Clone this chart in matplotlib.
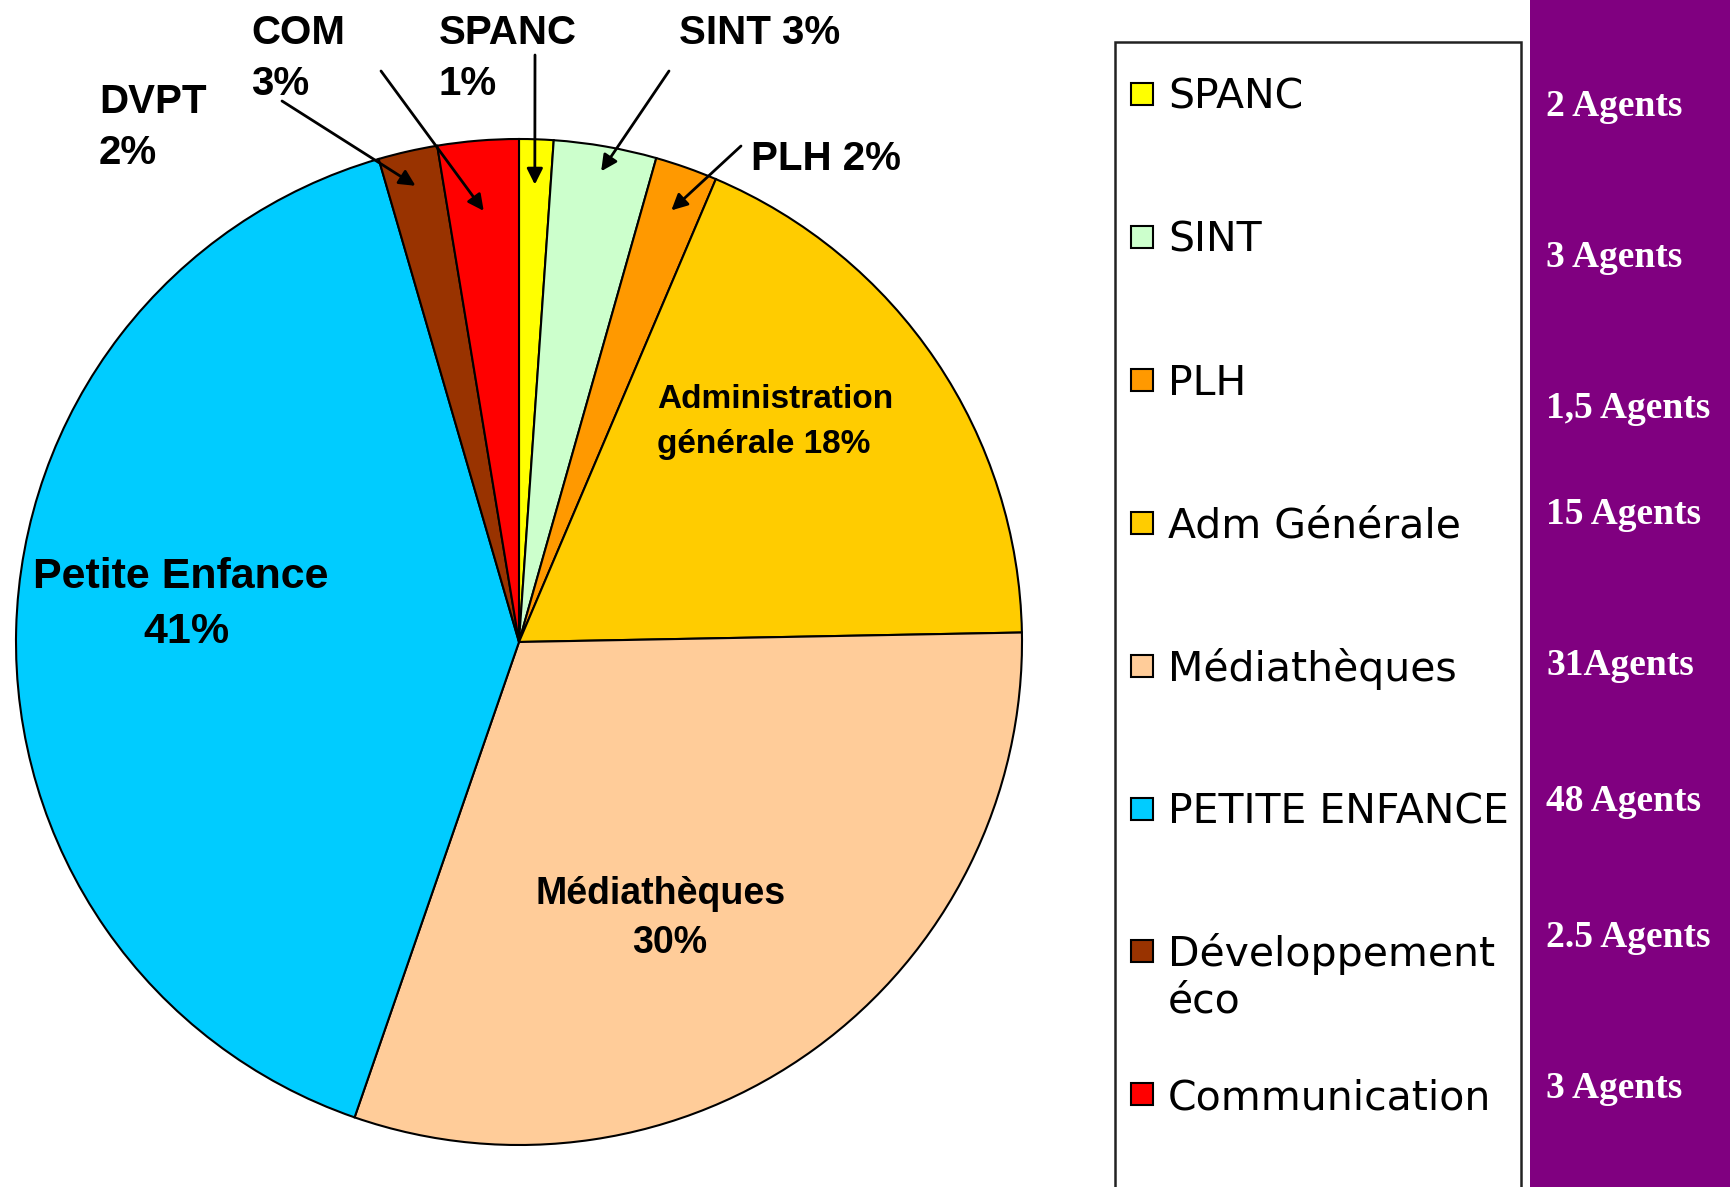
import matplotlib
matplotlib.use("Agg")
import numpy as np
import matplotlib.pyplot as plt
from matplotlib.patches import Rectangle

# Répartition des effectifs par service (parts en %)
services = ["SPANC", "SINT", "PLH", "Adm Générale", "Médiathèques",
            "PETITE ENFANCE", "Développement\néco", "Communication"]
parts = [1.1, 3.3, 2.0, 18.3, 30.6, 40.2, 1.9, 2.6]
couleurs = ["#FFFF00", "#CCFFCC", "#FF9900", "#FFCC00", "#FFCC99",
            "#00CCFF", "#993300", "#FF0000"]
agents = ["2 Agents", "3 Agents", "1,5 Agents", "15 Agents", "31Agents",
          "48 Agents", "2.5 Agents", "3 Agents"]

W, H = 1731, 1187


def fx(px):
    return px / W


def fy(py):
    return 1 - py / H


fig = plt.figure(figsize=(W / 100, H / 100), dpi=100)
fig.patch.set_facecolor("white")

# camembert : centre (519, 642) px, rayon 503 px
ax = fig.add_axes([fx(16), 42 / H, 1006 / W, 1006 / H])
wedges, _ = ax.pie(parts, colors=couleurs, startangle=90, counterclock=False,
                   radius=1, wedgeprops=dict(edgecolor="black", linewidth=1.5))
ax.set_xlim(-1, 1)
ax.set_ylim(-1, 1)
ax.axis("off")

lab_font = dict(family="Liberation Sans", weight="bold", color="black")

# étiquettes : (texte, x, ligne de base, alignement, taille)
etiquettes = [
    ("COM", 251, 44, "left", 29), ("3%", 251, 95, "left", 29),
    ("SPANC", 439, 44, "left", 29), ("1%", 439, 95, "left", 29),
    ("SINT 3%", 679, 44, "left", 29),
    ("DVPT", 99, 113, "left", 29), ("2%", 99, 164, "left", 29),
    ("PLH 2%", 751, 170, "left", 29),
    ("Administration", 657, 408, "left", 24),
    ("générale 18%", 657, 453, "left", 24),
    ("Petite Enfance", 181, 588, "center", 31),
    ("41%", 186, 643, "center", 31),
    ("Médiathèques", 661, 904, "center", 27),
    ("30%", 670, 953, "center", 27),
]
for txt, x, y, ha, fs in etiquettes:
    fig.text(fx(x), fy(y), txt, ha=ha, va="baseline", fontsize=fs, **lab_font)

# flèches : indice de la part, départ (px), rayon de la pointe
fleches = [(0, (535, 55), 0.91), (1, (669, 71), 0.95), (2, (741, 146), 0.91),
           (6, (282, 101), 0.93), (7, (381, 71), 0.86)]
for i, (px, py), r in fleches:
    w = wedges[i]
    ang = np.deg2rad((w.theta1 + w.theta2) / 2)
    ax.annotate("", xy=(r * np.cos(ang), r * np.sin(ang)), xycoords="data",
                xytext=(px, H - py), textcoords="figure pixels",
                arrowprops=dict(arrowstyle="-|>", color="black", lw=2,
                                mutation_scale=24, shrinkA=0, shrinkB=0),
                annotation_clip=False)

# cadre de la légende
fig.add_artist(Rectangle((fx(1115), fy(1200)), (1521 - 1115) / W, (1200 - 42) / H,
                         transform=fig.transFigure, facecolor="white",
                         edgecolor="#222222", linewidth=1.8))
# bandeau violet
fig.add_artist(Rectangle((fx(1530), 0), (W - 1530) / W + 0.01, 1.01,
                         transform=fig.transFigure, facecolor="#800080",
                         edgecolor="none"))

leg_fs = 29.5
leg_px = leg_fs * 100 / 72
for i, (nom, coul) in enumerate(zip(services, couleurs)):
    cy = 94 + i * 142.9
    fig.add_artist(Rectangle((fx(1131), fy(cy + 11)), 22 / W, 22 / H,
                             transform=fig.transFigure, facecolor=coul,
                             edgecolor="black", linewidth=1.5))
    for k, ligne in enumerate(nom.split("\n")):
        fig.text(fx(1168), fy(cy + 0.365 * leg_px + k * 46), ligne,
                 ha="left", va="baseline", fontsize=leg_fs,
                 family="DejaVu Sans", color="black")

agent_y = [104, 255, 406, 512, 663, 799, 935, 1086]
ag_px = 27 * 100 / 72
for txt, cy in zip(agents, agent_y):
    fig.text(fx(1546), fy(cy + 0.33 * ag_px), txt, ha="left", va="baseline",
             fontsize=27, family="Liberation Serif", weight="bold", color="white")

fig.savefig("out.png", dpi=100)
